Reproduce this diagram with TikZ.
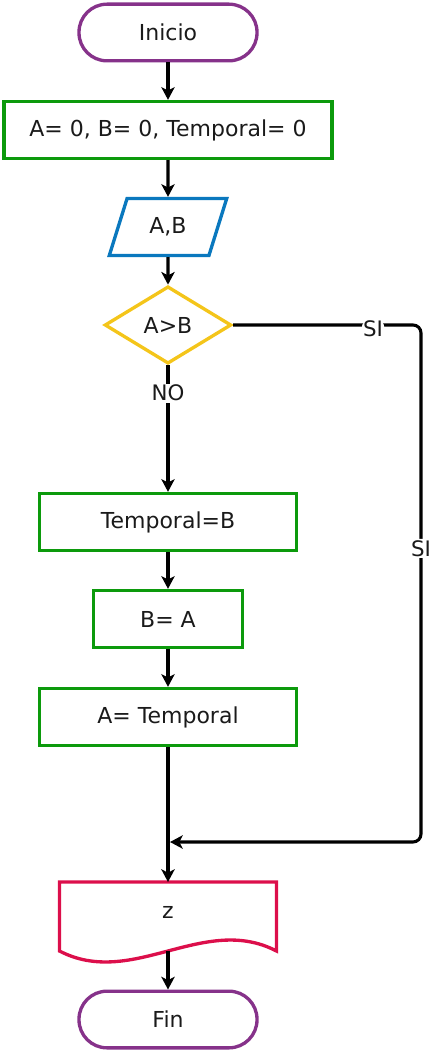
\documentclass[tikz,border=0pt]{standalone}
\usepackage{fontspec}
\setmainfont{DejaVu Sans}
\usepackage{tikz}
\usetikzlibrary{arrows.meta,shapes.geometric,calc}
\definecolor{termpurple}{HTML}{86328A}
\definecolor{procgreen}{HTML}{0C9A0C}
\definecolor{ioblue}{HTML}{0A78BE}
\definecolor{decyellow}{HTML}{F4C51A}
\definecolor{outred}{HTML}{DC0F4B}
\definecolor{inktext}{HTML}{1A1A1A}

\begin{document}
\begin{tikzpicture}[x=0.75pt,y=-0.75pt,
  every node/.style={font=\fontsize{16.5}{19}\selectfont,text=inktext},
  term/.style={draw=termpurple,line width=2.5pt,rounded corners=21pt,minimum width=133.5pt,minimum height=42.5pt},
  proc/.style={draw=procgreen,line width=2.5pt,minimum height=42.75pt},
  io/.style={trapezium,trapezium left angle=70,trapezium right angle=110,trapezium stretches=true,
    draw=ioblue,line width=2.5pt,minimum width=88.5pt,minimum height=42.75pt},
  dec/.style={diamond,draw=decyellow,line width=2.5pt,minimum width=95pt,minimum height=58pt,inner sep=0pt},
  flow/.style={line width=2.3pt,-{Stealth[length=9.5pt,width=10pt,inset=2.5pt]}},
  lbl/.style={fill=white,inner sep=1pt,font=\fontsize{16}{18}\selectfont}]
  \useasboundingbox (0,0) rectangle (432,1052);
  \node[term] (inicio) at (168,32.5) {Inicio};
  \node[proc,minimum width=246pt] (init) at (168,130) {A= 0, B= 0, Temporal= 0};
  \node[io] (leer) at (168,227) {A,B};
  \node[dec] (cmp) at (168,325) {A>B};
  \node[proc,minimum width=193pt] (tmp) at (168,522) {Temporal=B};
  \node[proc,minimum width=112pt] (bsig) at (168,619) {B= A};
  \node[proc,minimum width=193pt] (asig) at (168,717) {A= Temporal};
  \node[minimum width=162.75pt,minimum height=45pt,outer sep=0pt] (salida) at (168,912) {z};
  \draw[outred,line width=2.5pt] (salida.north west) -- ++(0,69)
    .. controls +(73,38) and +(-73,-38) .. ++(217,0) -- (salida.north east) -- cycle;
  \node[term] (fin) at (168,1019.5) {Fin};
  \coordinate (merge) at (170,842);
  \draw[flow] (inicio) -- (init);
  \draw[flow] (init) -- (leer);
  \draw[flow] (leer) -- (cmp);
  \draw[flow] (cmp) -- node[lbl,pos=0.22]{NO} (tmp);
  \draw[flow] (tmp) -- (bsig);
  \draw[flow] (bsig) -- (asig);
  \draw[flow] (asig) -- (salida);
  \draw[flow] ($(salida.south)+(0,9)$) -- (fin);
  \draw[flow,rounded corners=6pt] (cmp.east) -- node[lbl,pos=0.745,yshift=-3pt]{SI} ++(188,0)
    |- node[lbl,pos=0.216]{SI} (merge);
\end{tikzpicture}
\end{document}
